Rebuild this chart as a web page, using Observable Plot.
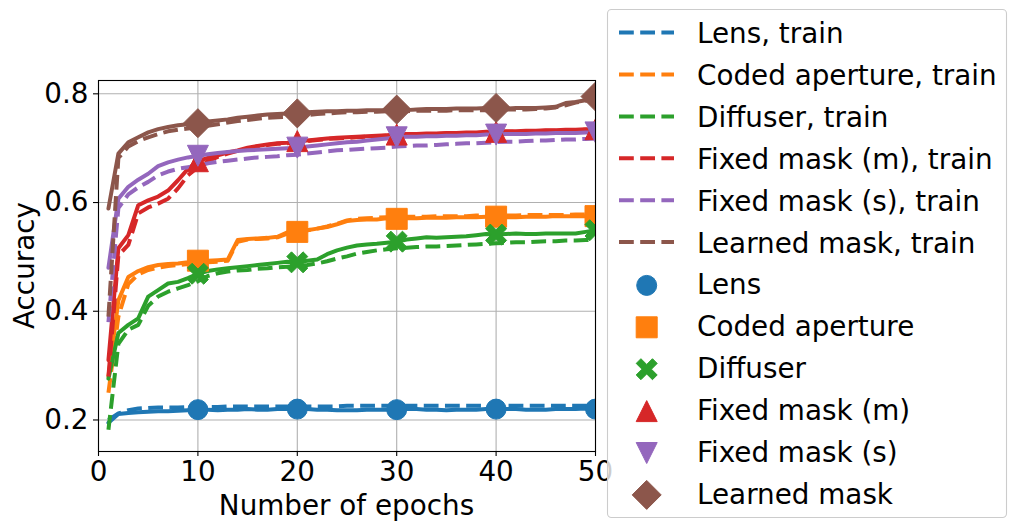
<!DOCTYPE html>
<html><head><meta charset="utf-8">
<script src="https://cdn.jsdelivr.net/npm/d3@7"></script>
<script src="https://cdn.jsdelivr.net/npm/@observablehq/plot@0.6"></script>
<style>body{margin:0;background:#fff;} #chart{position:relative;width:1016px;height:531px;}</style>
</head><body><div id="chart"></div>
<script>
const epochs = [1,2,3,4,5,6,7,8,9,10,11,12,13,14,15,16,17,18,19,20,21,22,23,24,25,26,27,28,29,30,31,32,33,34,35,36,37,38,39,40,41,42,43,44,45,46,47,48,49,50];
const markerEpochs = [10,20,30,40,50];
const xTicks = [0,10,20,30,40,50];
const yTicks = [0.2,0.4,0.6,0.8];
const methods = ["Lens","Coded aperture","Diffuser","Fixed mask (m)","Fixed mask (s)","Learned mask"];
const colors = ["#1f77b4","#ff7f0e","#2ca02c","#d62728","#9467bd","#8c564b"];

const lensTest = [0.195,0.211,0.213,0.214,0.215,0.216,0.216,0.217,0.218,0.219,0.219,0.218,0.219,0.219,0.220,0.219,0.219,0.220,0.220,0.220,0.220,0.219,0.219,0.218,0.218,0.218,0.219,0.219,0.219,0.219,0.220,0.220,0.219,0.219,0.218,0.219,0.219,0.219,0.220,0.220,0.220,0.220,0.219,0.219,0.219,0.220,0.220,0.220,0.221,0.220];
const lensTrain = [0.200,0.212,0.218,0.221,0.222,0.223,0.223,0.223,0.224,0.224,0.224,0.224,0.225,0.225,0.225,0.225,0.225,0.225,0.225,0.225,0.225,0.225,0.225,0.225,0.226,0.226,0.226,0.226,0.226,0.226,0.226,0.226,0.226,0.226,0.226,0.226,0.226,0.226,0.226,0.226,0.226,0.226,0.226,0.226,0.226,0.226,0.226,0.226,0.226,0.226];
const codedTest = [0.280,0.420,0.463,0.474,0.481,0.485,0.487,0.488,0.490,0.493,0.493,0.494,0.495,0.531,0.533,0.534,0.535,0.537,0.545,0.546,0.549,0.552,0.555,0.560,0.566,0.568,0.569,0.569,0.571,0.570,0.571,0.571,0.572,0.572,0.572,0.573,0.573,0.573,0.574,0.574,0.573,0.573,0.574,0.574,0.574,0.575,0.575,0.575,0.575,0.575];
const codedTrain = [0.250,0.390,0.450,0.468,0.476,0.480,0.483,0.485,0.487,0.489,0.490,0.491,0.493,0.528,0.532,0.533,0.534,0.536,0.543,0.546,0.549,0.552,0.556,0.561,0.567,0.570,0.571,0.572,0.573,0.573,0.574,0.574,0.574,0.575,0.575,0.575,0.575,0.576,0.576,0.576,0.576,0.576,0.577,0.577,0.577,0.577,0.577,0.578,0.578,0.578];
const diffTest = [0.276,0.360,0.375,0.387,0.427,0.439,0.451,0.454,0.461,0.469,0.474,0.477,0.479,0.481,0.483,0.485,0.487,0.489,0.491,0.490,0.493,0.495,0.505,0.512,0.517,0.521,0.523,0.524,0.526,0.528,0.532,0.534,0.536,0.535,0.536,0.537,0.538,0.540,0.542,0.541,0.542,0.543,0.542,0.542,0.543,0.543,0.543,0.543,0.546,0.549];
const diffTrain = [0.182,0.340,0.366,0.375,0.410,0.427,0.436,0.442,0.448,0.455,0.465,0.470,0.473,0.475,0.476,0.478,0.479,0.481,0.482,0.483,0.485,0.488,0.492,0.497,0.501,0.506,0.509,0.512,0.514,0.516,0.517,0.518,0.519,0.519,0.520,0.521,0.522,0.523,0.524,0.525,0.526,0.527,0.527,0.528,0.529,0.529,0.530,0.530,0.531,0.532];
const fixedMTest = [0.310,0.516,0.540,0.595,0.604,0.611,0.622,0.641,0.662,0.676,0.682,0.687,0.692,0.696,0.701,0.704,0.707,0.709,0.710,0.713,0.714,0.716,0.718,0.719,0.720,0.721,0.722,0.723,0.724,0.725,0.726,0.726,0.727,0.727,0.728,0.728,0.729,0.729,0.730,0.730,0.731,0.731,0.732,0.732,0.733,0.733,0.734,0.734,0.735,0.735];
const fixedMTrain = [0.280,0.503,0.522,0.580,0.591,0.598,0.607,0.626,0.650,0.665,0.676,0.684,0.690,0.695,0.699,0.703,0.706,0.708,0.709,0.712,0.713,0.715,0.717,0.718,0.719,0.720,0.721,0.722,0.723,0.724,0.725,0.725,0.726,0.726,0.727,0.727,0.728,0.728,0.729,0.729,0.730,0.730,0.731,0.731,0.732,0.732,0.733,0.733,0.734,0.734];
const fixedSTest = [0.480,0.607,0.629,0.642,0.653,0.667,0.674,0.679,0.683,0.686,0.689,0.691,0.693,0.695,0.696,0.697,0.698,0.699,0.700,0.701,0.703,0.705,0.707,0.709,0.711,0.712,0.714,0.716,0.718,0.720,0.721,0.721,0.722,0.722,0.723,0.723,0.724,0.724,0.725,0.725,0.726,0.726,0.726,0.727,0.727,0.728,0.728,0.728,0.729,0.729];
const fixedSTrain = [0.380,0.590,0.615,0.628,0.638,0.650,0.657,0.662,0.665,0.668,0.672,0.675,0.677,0.679,0.681,0.683,0.684,0.685,0.687,0.688,0.690,0.692,0.694,0.696,0.697,0.698,0.699,0.700,0.701,0.703,0.704,0.705,0.705,0.706,0.707,0.708,0.709,0.709,0.710,0.711,0.712,0.712,0.713,0.714,0.714,0.715,0.716,0.716,0.717,0.718];
const learnedTest = [0.589,0.690,0.711,0.720,0.729,0.735,0.739,0.742,0.744,0.746,0.749,0.751,0.753,0.756,0.758,0.760,0.762,0.763,0.764,0.764,0.766,0.767,0.768,0.768,0.769,0.769,0.770,0.770,0.770,0.771,0.770,0.771,0.772,0.772,0.772,0.773,0.773,0.773,0.774,0.774,0.773,0.774,0.774,0.774,0.775,0.776,0.783,0.785,0.788,0.795];
const learnedTrain = [0.390,0.682,0.703,0.713,0.720,0.726,0.731,0.734,0.736,0.738,0.741,0.744,0.747,0.750,0.752,0.754,0.756,0.757,0.758,0.760,0.761,0.763,0.764,0.765,0.766,0.766,0.767,0.767,0.768,0.768,0.768,0.769,0.769,0.769,0.769,0.770,0.770,0.770,0.770,0.770,0.771,0.771,0.771,0.772,0.773,0.775,0.779,0.784,0.787,0.791];

// marker shapes (half-extent a derived from size = pi r^2)
const sym = {
  circle: {draw(c,s){const a=Math.sqrt(s/Math.PI); c.moveTo(a,0); c.arc(0,0,a,0,2*Math.PI); c.closePath();}},
  square: {draw(c,s){const a=Math.sqrt(s/Math.PI); c.moveTo(-a,-a); c.lineTo(a,-a); c.lineTo(a,a); c.lineTo(-a,a); c.closePath();}},
  x: {draw(c,s){const a=Math.sqrt(s/Math.PI), k=a*0.45;
      const p=[[0,-k],[a-k,-a],[a,-a+k],[k,0],[a,a-k],[a-k,a],[0,k],[-a+k,a],[-a,a-k],[-k,0],[-a,-a+k],[-a+k,-a]];
      c.moveTo(p[0][0],p[0][1]); for(let i=1;i<p.length;i++) c.lineTo(p[i][0],p[i][1]); c.closePath();}},
  triUp: {draw(c,s){const a=Math.sqrt(s/Math.PI); c.moveTo(0,-a); c.lineTo(a,a); c.lineTo(-a,a); c.closePath();}},
  triDown: {draw(c,s){const a=Math.sqrt(s/Math.PI); c.moveTo(0,a); c.lineTo(a,-a); c.lineTo(-a,-a); c.closePath();}},
  diamond: {draw(c,s){const a=Math.sqrt(s/Math.PI); c.moveTo(0,-a); c.lineTo(a,0); c.lineTo(0,a); c.lineTo(-a,0); c.closePath();}}
};
const symbols = [sym.circle, sym.square, sym.x, sym.triUp, sym.triDown, sym.diamond];
const sizes = [10, 10.5, 10.5, 10.5, 10.5, 14.5];
const tests = [lensTest, codedTest, diffTest, fixedMTest, fixedSTest, learnedTest];
const trains = [lensTrain, codedTrain, diffTrain, fixedMTrain, fixedSTrain, learnedTrain];

const marks = [
  Plot.gridX(xTicks, {stroke:"#b0b0b0", strokeOpacity:1, strokeWidth:1.1}),
  Plot.gridY(yTicks, {stroke:"#b0b0b0", strokeOpacity:1, strokeWidth:1.1}),
];
const LW = 4;
methods.forEach((m, k) => {
  marks.push(Plot.line(trains[k], {x:(d,i)=>epochs[i], y:d=>d, stroke:colors[k], strokeWidth:LW, strokeDasharray:"14.8 6.4", strokeLinecap:"butt", strokeLinejoin:"round", clip:"frame"}));
  marks.push(Plot.line(tests[k], {x:(d,i)=>epochs[i], y:d=>d, stroke:colors[k], strokeWidth:LW, strokeLinejoin:"round", clip:"frame"}));
});
methods.forEach((m, k) => {
  marks.push(Plot.dot(markerEpochs, {x:d=>d, y:d=>tests[k][epochs.indexOf(d)], symbol:symbols[k], r:sizes[k], fill:colors[k], stroke:colors[k], strokeWidth:1, clip:"frame"}));
});
marks.push(
  Plot.frame({stroke:"black", strokeWidth:1.1}),
  Plot.axisX(xTicks, {tickSize:5, tickPadding:5, tickFormat:d=>String(d), label:null, fontSize:27.8, strokeWidth:1.1}),
  Plot.axisY(yTicks, {tickSize:5, tickPadding:5, tickFormat:d3.format(".1f"), label:null, fontSize:27.8, strokeWidth:1.1})
);

const chart = Plot.plot({
  width:1016, height:531,
  marginLeft:98, marginRight:421, marginTop:80, marginBottom:80,
  x:{domain:[0,50]},
  y:{domain:[0.142,0.8245]},
  style:{fontFamily:"DejaVu Sans", fontSize:"27.8px", color:"black", background:"white", overflow:"visible"},
  marks
});
document.getElementById("chart").appendChild(chart);

const svg = d3.select(chart);
svg.append("text").text("Number of epochs").attr("x", 346.5).attr("y", 515)
  .attr("text-anchor","middle").attr("font-family","DejaVu Sans").attr("font-size",27.8).attr("fill","black");
svg.append("text").text("Accuracy").attr("transform","translate(34,265.5) rotate(-90)")
  .attr("text-anchor","middle").attr("font-family","DejaVu Sans").attr("font-size",27.8).attr("fill","black");

// legend
const lg = svg.append("g").attr("text-anchor","start");
lg.append("rect").attr("x",607.5).attr("y",9.5).attr("width",399).attr("height",508).attr("rx",4)
  .attr("fill","white").attr("fill-opacity",0.8).attr("stroke","#cccccc").attr("stroke-width",1.1);
const base0 = 43, step = 41.9;
methods.forEach((m,k) => {
  const yb = base0 + step*k;
  lg.append("line").attr("x1",619).attr("x2",674).attr("y1",yb-10.4).attr("y2",yb-10.4)
    .attr("stroke",colors[k]).attr("stroke-width",LW).attr("stroke-dasharray","14.8 6.4");
  lg.append("text").text(m + ", train").attr("x",697).attr("y",yb).attr("text-anchor","start")
    .attr("font-family","DejaVu Sans").attr("font-size",27.8).attr("fill","black");
});
methods.forEach((m,k) => {
  const yb = base0 + step*(k+6);
  const p = d3.path(); symbols[k].draw(p, Math.PI*sizes[k]*sizes[k]);
  lg.append("path").attr("d", p.toString()).attr("transform",`translate(646.7,${yb-9})`)
    .attr("fill",colors[k]).attr("stroke",colors[k]).attr("stroke-width",1);
  lg.append("text").text(m).attr("x",697).attr("y",yb).attr("text-anchor","start")
    .attr("font-family","DejaVu Sans").attr("font-size",27.8).attr("fill","black");
});
</script>
</body></html>
